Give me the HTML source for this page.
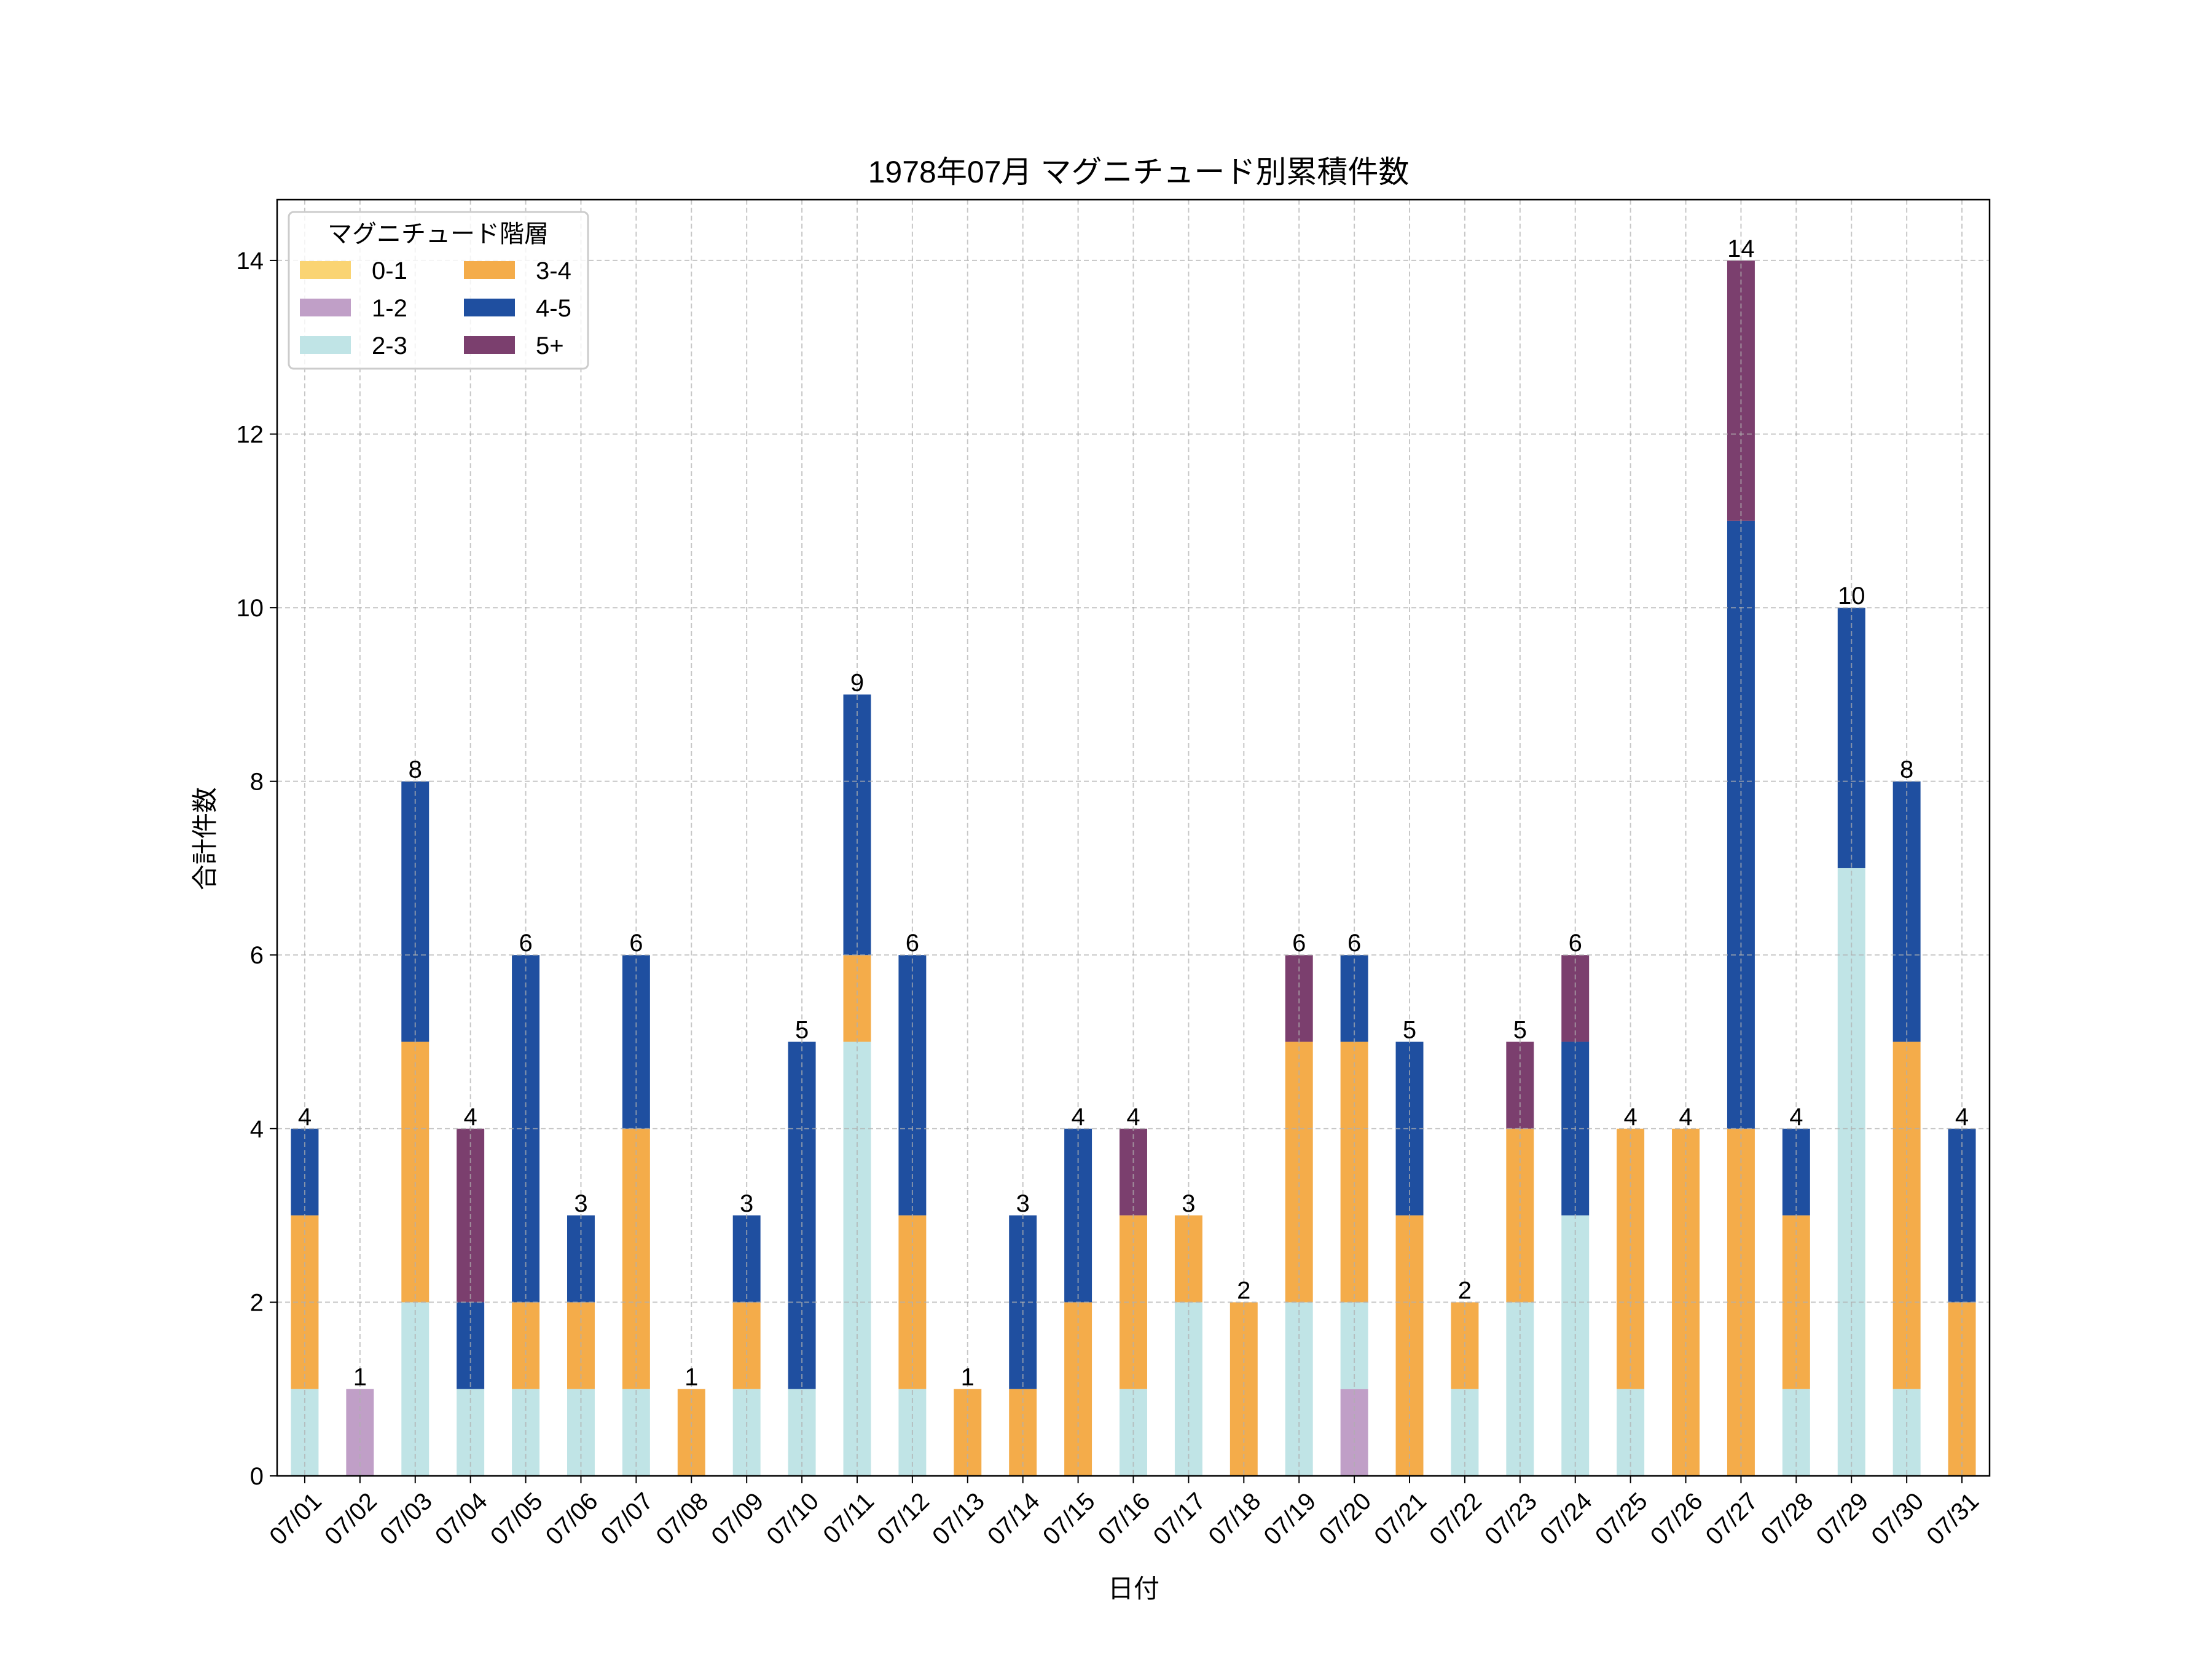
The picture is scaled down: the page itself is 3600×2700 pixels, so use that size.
<!DOCTYPE html>
<html><head><meta charset="utf-8"><style>
html,body{margin:0;padding:0;background:#fff;}
svg{display:block;font-family:"Liberation Sans","Noto Sans CJK JP",sans-serif;}
</style></head><body>
<svg id="chart" width="3600" height="2700" viewBox="0 0 3600 2700" xmlns="http://www.w3.org/2000/svg">
<rect width="3600" height="2700" fill="#fff"/>
<text x="1853" y="297" font-size="50" text-anchor="middle">1978年07月 マグニチュード別累積件数</text>
<g id="grid"></g>
<g id="bars"></g>
<g id="labels"></g>
<rect x="451" y="325" width="2787" height="2077" fill="none" stroke="#000" stroke-width="2.5"/>
<g id="xticks"></g>
<g id="yticks"></g>
<text x="1845" y="2600" font-size="42" text-anchor="middle">日付</text>
<text x="348" y="1365" font-size="42" text-anchor="middle" transform="rotate(-90 348 1365)">合計件数</text>
<g id="legend"></g>
</svg>
<script>
const categories=["07/01","07/02","07/03","07/04","07/05","07/06","07/07","07/08","07/09","07/10","07/11","07/12","07/13","07/14","07/15","07/16","07/17","07/18","07/19","07/20","07/21","07/22","07/23","07/24","07/25","07/26","07/27","07/28","07/29","07/30","07/31"];
const seriesNames=["0-1","1-2","2-3","3-4","4-5","5+"];
const seriesColors=["#fad473","#c09fc7","#c0e4e6","#f4ac4a","#1f4fa0","#7b3f6e"];
const s01=[0,0,0,0,0,0,0,0,0,0,0,0,0,0,0,0,0,0,0,0,0,0,0,0,0,0,0,0,0,0,0];
const s12=[0,1,0,0,0,0,0,0,0,0,0,0,0,0,0,0,0,0,0,1,0,0,0,0,0,0,0,0,0,0,0];
const s23=[1,0,2,1,1,1,1,0,1,1,5,1,0,0,0,1,2,0,2,1,0,1,2,3,1,0,0,1,7,1,0];
const s34=[2,0,3,0,1,1,3,1,1,0,1,2,1,1,2,2,1,2,3,3,3,1,2,0,3,4,4,2,0,4,2];
const s45=[1,0,3,1,4,1,2,0,1,4,3,3,0,2,2,0,0,0,0,1,2,0,0,2,0,0,7,1,3,3,2];
const s5p=[0,0,0,2,0,0,0,0,0,0,0,0,0,0,0,1,0,0,1,0,0,0,1,1,0,0,3,0,0,0,0];
const yTicks=[0,2,4,6,8,10,12,14];
const series=[s01,s12,s23,s34,s45,s5p];
const NS="http://www.w3.org/2000/svg";
const L=451,R=3238,T=325,B=2402,YMAX=14.7;
const xScale=i=>L+(i+0.5)*(R-L)/categories.length;
const yScale=v=>B-v*(B-T)/YMAX;
const barW=0.5*(R-L)/categories.length;
function mk(tag,attrs,parent){const e=document.createElementNS(NS,tag);for(const k in attrs)e.setAttribute(k,attrs[k]);parent.appendChild(e);return e;}
const grid=document.getElementById('grid'),bars=document.getElementById('bars'),labels=document.getElementById('labels'),xt=document.getElementById('xticks'),yt=document.getElementById('yticks');
categories.forEach((c,i)=>{
  const x=xScale(i);
  const g=mk('line',{x1:x,x2:x,y1:T,y2:B,stroke:'#b0b0b0','stroke-width':2,'stroke-dasharray':'8,5',opacity:0.7},grid);
  
  
  const tk=mk('line',{x1:x,x2:x,y1:B,y2:B+12,stroke:'#000','stroke-width':2},xt);
  
  
  const t=mk('text',{x:x+10,y:B+24,'font-size':40,'text-anchor':'end','dominant-baseline':'hanging',transform:`rotate(-45 ${x+10} ${B+24})`},xt);
  t.textContent=c;
  
  
});
yTicks.forEach(v=>{
  const y=yScale(v);
  const g=mk('line',{x1:L,x2:R,y1:y,y2:y,stroke:'#b0b0b0','stroke-width':2,'stroke-dasharray':'8,5',opacity:0.7},grid);
  
  
  const tk=mk('line',{x1:L-12,x2:L,y1:y,y2:y,stroke:'#000','stroke-width':2},yt);
  
  
  const t=mk('text',{x:L-22,y:y+14,'font-size':40,'text-anchor':'end'},yt);
  t.textContent=v;
  
  
});
categories.forEach((c,i)=>{
  let base=0;
  series.forEach((s,k)=>{
    if(s[i]>0){
      const r=mk('rect',{x:xScale(i)-barW/2,y:yScale(base+s[i]),width:barW,height:yScale(base)-yScale(base+s[i]),fill:seriesColors[k]},bars);
      
      
    }
    base+=s[i];
  });
  const t=mk('text',{x:xScale(i),y:yScale(base)-6,'font-size':40,'text-anchor':'middle'},labels);
  t.textContent=base;
  
  
});
document.getElementById('chart').insertBefore(bars,grid);
const lg=document.getElementById('legend');
const box=mk('rect',{x:470,y:345,width:487,height:255,rx:8,fill:'#fff','fill-opacity':0.8,stroke:'#ccc','stroke-width':3},lg);


const lt=mk('text',{x:713,y:394,'font-size':40,'text-anchor':'middle'},lg);
lt.textContent='マグニチュード階層';


seriesNames.forEach((n,k)=>{
  const col=Math.floor(k/3),row=k%3;
  const hx=col?755:488, ty=439+row*61;
  const h=mk('rect',{x:hx,y:ty-14,width:83,height:29,fill:seriesColors[k]},lg);
  
  
  const t=mk('text',{x:hx+117,y:ty+15,'font-size':40},lg);
  t.textContent=n;
  
  
});
</script>
</body></html>
